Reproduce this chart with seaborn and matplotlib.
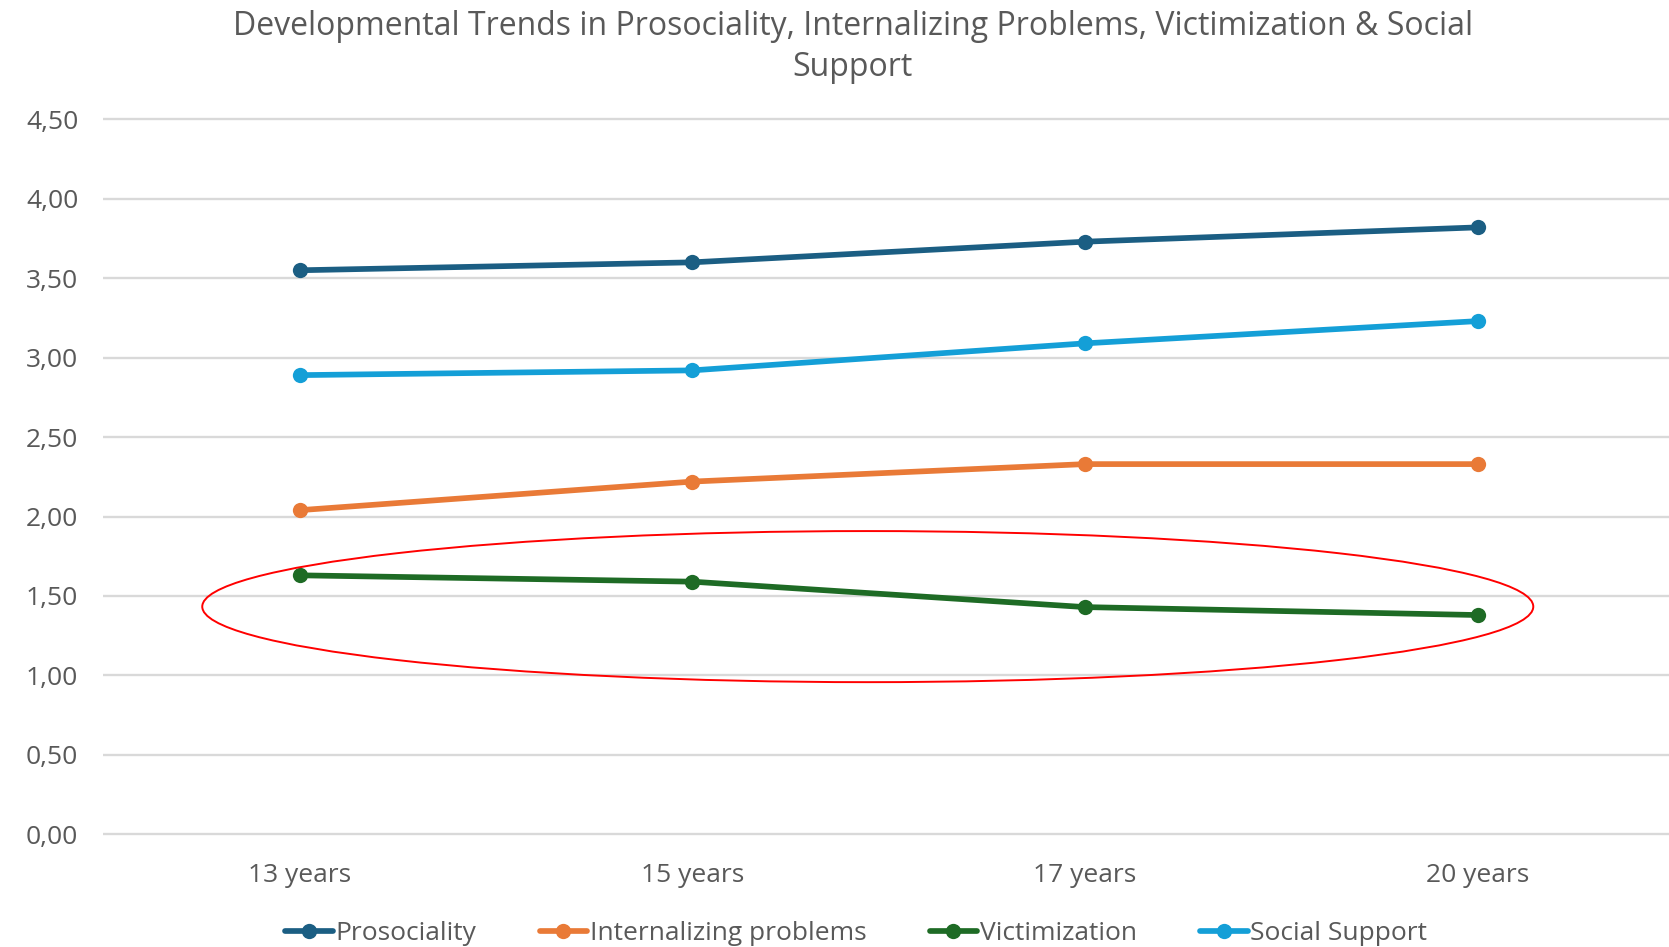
import pandas as pd
import matplotlib
matplotlib.use("Agg")
import matplotlib.pyplot as plt
from matplotlib.patches import Ellipse
from matplotlib.ticker import FuncFormatter
import seaborn as sns

# chart data
ages = ["13 years", "15 years", "17 years", "20 years"]
prosociality = [3.55, 3.60, 3.73, 3.82]
internalizing = [2.04, 2.22, 2.33, 2.33]
victimization = [1.63, 1.59, 1.43, 1.38]
social_support = [2.89, 2.92, 3.09, 3.23]

series_names = ["Prosociality", "Internalizing problems", "Victimization", "Social Support"]
series_values = [prosociality, internalizing, victimization, social_support]
colors = ["#1b5e83", "#e97a37", "#1e6b25", "#149fd7"]

rows = []
for name, vals in zip(series_names, series_values):
    for age, v in zip(ages, vals):
        rows.append({"age": age, "value": v, "series": name})
df = pd.DataFrame(rows)

sns.set_style("white")
plt.rcParams["font.family"] = ["Open Sans", "DejaVu Sans"]
text_color = "#595959"

fig = plt.figure(figsize=(16.69, 9.47), dpi=100)
ax = fig.add_axes([0.0619, 0.114, 0.941, 0.765])

sns.lineplot(data=df, x="age", y="value", hue="series", hue_order=series_names,
             palette=colors, marker="o", markersize=11, markeredgewidth=0,
             linewidth=4.1, ax=ax, legend=True)

ax.set_xlim(-0.5, 3.5)
ax.set_ylim(-0.03, 4.53)
ax.set_yticks([0, 0.5, 1, 1.5, 2, 2.5, 3, 3.5, 4, 4.5])
ax.yaxis.set_major_formatter(FuncFormatter(lambda v, p: f"{v:.2f}".replace(".", ",")))
ax.grid(axis="y", color="#d9d9d9", linewidth=1.7)
ax.set_axisbelow(True)
for s in ax.spines.values():
    s.set_visible(False)
ax.tick_params(axis="both", length=0, labelsize=19, colors=text_color)
ax.tick_params(axis="x", pad=17)
ax.tick_params(axis="y", pad=18)
ax.set_xlabel("")
ax.set_ylabel("")

# highlight ellipse around victimization
ell = Ellipse((1.447, 1.433), 3.39, 0.951, fill=False, edgecolor="#ff0000", linewidth=1.4, zorder=5)
ax.add_patch(ell)

fig.suptitle("Developmental Trends in Prosociality, Internalizing Problems, Victimization & Social\nSupport",
             x=0.511, y=0.989, fontsize=23, color=text_color, linespacing=1.3)

handles, labels = ax.get_legend_handles_labels()
ax.get_legend().remove()
fig.legend(handles, labels, loc="center", bbox_to_anchor=(0.513, 0.014), ncol=4, frameon=False,
           fontsize=19, labelcolor=text_color, handlelength=1.8, handletextpad=0.1,
           columnspacing=2.4)

fig.savefig("out.png", dpi=100)
